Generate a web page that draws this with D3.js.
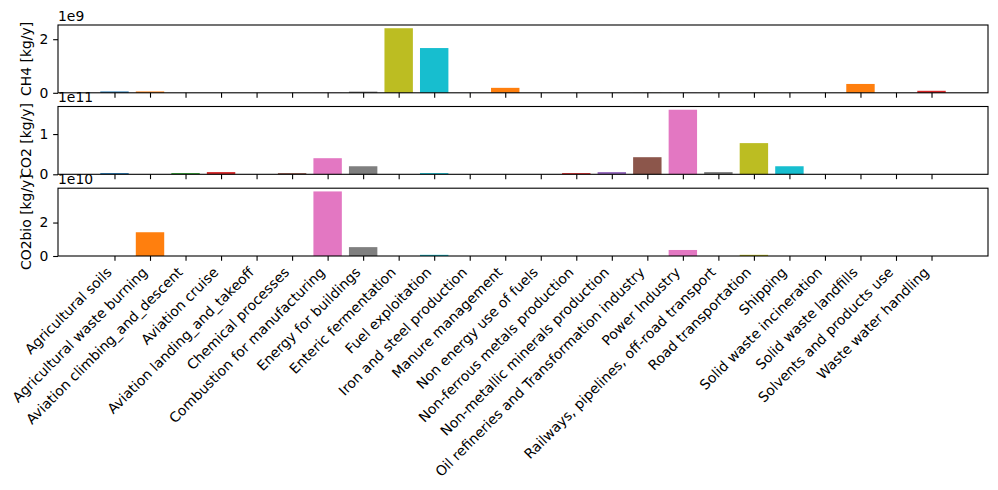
<!DOCTYPE html>
<html>
<head>
<meta charset="utf-8">
<script src="https://cdn.jsdelivr.net/npm/d3@7"></script>
<style>
  html, body { margin: 0; padding: 0; background: #fff; }
  svg { display: block; }
  text { font-family: "DejaVu Sans", sans-serif; fill: #000; }
</style>
</head>
<body>
<svg id="chart" width="998" height="490"></svg>
<script>
const categories = [
  "Agricultural soils",
  "Agricultural waste burning",
  "Aviation climbing_and_descent",
  "Aviation cruise",
  "Aviation landing_and_takeoff",
  "Chemical processes",
  "Combustion for manufacturing",
  "Energy for buildings",
  "Enteric fermentation",
  "Fuel exploitation",
  "Iron and steel production",
  "Manure management",
  "Non energy use of fuels",
  "Non-ferrous metals production",
  "Non-metallic minerals production",
  "Oil refineries and Transformation industry",
  "Power Industry",
  "Railways, pipelines, off-road transport",
  "Road transportation",
  "Shipping",
  "Solid waste incineration",
  "Solid waste landfills",
  "Solvents and products use",
  "Waste water handling"
];

// kg/y
const ch4 = [5e7, 5e7, 0, 0, 0, 0, 4e6, 4.5e7, 2.41e9, 1.67e9, 1e6, 1.85e8,
             0, 0, 0, 4e6, 4e6, 0, 4e6, 0, 0, 3.3e8, 0, 7.5e7];
const co2 = [3e9, 0, 3e9, 5.5e9, 0, 3e9, 4.0e10, 2.0e10, 0, 3e9, 0, 0,
             0, 3e9, 5.5e9, 4.25e10, 1.605e11, 5.5e9, 7.75e10, 2.0e10, 0, 0, 0, 0];
const co2bio = [0, 1.42e10, 0, 0, 0, 0, 3.86e10, 5.3e9, 0, 7e8, 0, 0,
                0, 0, 0, 0, 3.6e9, 0, 7e8, 0, 0, 0, 0, 0];

const yLabels = ["CH4 [kg/y]", "CO2 [kg/y]", "CO2bio [kg/y]"];
const offsetLabels = ["1e9", "1e11", "1e10"];
const scaleFactors = [1e9, 1e11, 1e10];
const yTickValues = [[0, 2], [0, 1], [0, 2]];

const colors = ["#1f77b4", "#ff7f0e", "#2ca02c", "#d62728", "#9467bd",
                "#8c564b", "#e377c2", "#7f7f7f", "#bcbd22", "#17becf"];

const series = [ch4, co2, co2bio];

const svg = d3.select("#chart");
const fs = 13.9;
const left = 58, right = 988;
const tops = [25, 106.5, 188.2];
const ph = 67.8;
const tickLen = 4.86, pad = 4.86;

const n = categories.length;
const barW = 0.8;
const lo = -barW / 2, hi = n - 1 + barW / 2;
const m = (hi - lo) * 0.05;
const x = d3.scaleLinear().domain([lo - m, hi + m]).range([left, right]);

series.forEach((vals, si) => {
  const top = tops[si];
  const bottom = top + ph;
  const sf = scaleFactors[si];
  const ymax = d3.max(vals) * 1.05;
  const y = d3.scaleLinear().domain([0, ymax]).range([bottom, top]);
  const g = svg.append("g");

  g.selectAll("rect").data(vals).join("rect")
    .attr("x", (d, i) => x(i - barW / 2))
    .attr("width", x(barW) - x(0))
    .attr("y", d => y(d))
    .attr("height", d => Math.max(0, y(0) - y(d)))
    .attr("fill", (d, i) => colors[i % 10]);

  // y axis
  const ya = d3.axisLeft(y)
    .tickValues(yTickValues[si].map(v => v * sf))
    .tickFormat(v => d3.format("d")(Math.round(v / sf)))
    .tickSize(tickLen).tickPadding(pad);
  const yg = g.append("g").attr("transform", `translate(${left},0)`).call(ya);
  yg.select(".domain").remove();
  yg.selectAll("line").attr("stroke", "#000").attr("stroke-width", 1.1);
  yg.selectAll("text").style("font-size", fs + "px").style("font-family", "DejaVu Sans").attr("fill", "#000");

  // x axis ticks
  const xa = d3.axisBottom(x)
    .tickValues(d3.range(n))
    .tickFormat(si === 2 ? (i => categories[i]) : "")
    .tickSize(tickLen).tickPadding(pad);
  const xg = g.append("g").attr("transform", `translate(0,${bottom})`).call(xa);
  xg.select(".domain").remove();
  xg.selectAll("line").attr("stroke", "#000").attr("stroke-width", 1.1);
  if (si === 2) {
    const a = 0.76 * fs, dsc = 0.24 * fs;
    xg.selectAll("text")
      .style("font-size", fs + "px").style("font-family", "DejaVu Sans").attr("fill", "#000")
      .attr("text-anchor", "end")
      .attr("dy", null)
      .attr("y", 0)
      .attr("transform", function(i) {
        const ax = -0.707 * dsc;
        const ay = tickLen + pad + 0.707 * a;
        return `translate(${ax},${ay}) rotate(-45)`;
      });
  } else {
    xg.selectAll("text").remove();
  }

  // frame
  g.append("rect")
    .attr("x", left).attr("y", top)
    .attr("width", right - left).attr("height", ph)
    .attr("fill", "none").attr("stroke", "#000").attr("stroke-width", 1.1);

  // offset text
  g.append("text")
    .attr("x", left).attr("y", top - 4.3)
    .style("font-size", fs + "px")
    .text(offsetLabels[si]);

  // y label
  g.append("text")
    .attr("transform", `translate(31,${top + ph / 2}) rotate(-90)`)
    .attr("text-anchor", "middle")
    .style("font-size", fs + "px")
    .text(yLabels[si]);
});
</script>
</body>
</html>
